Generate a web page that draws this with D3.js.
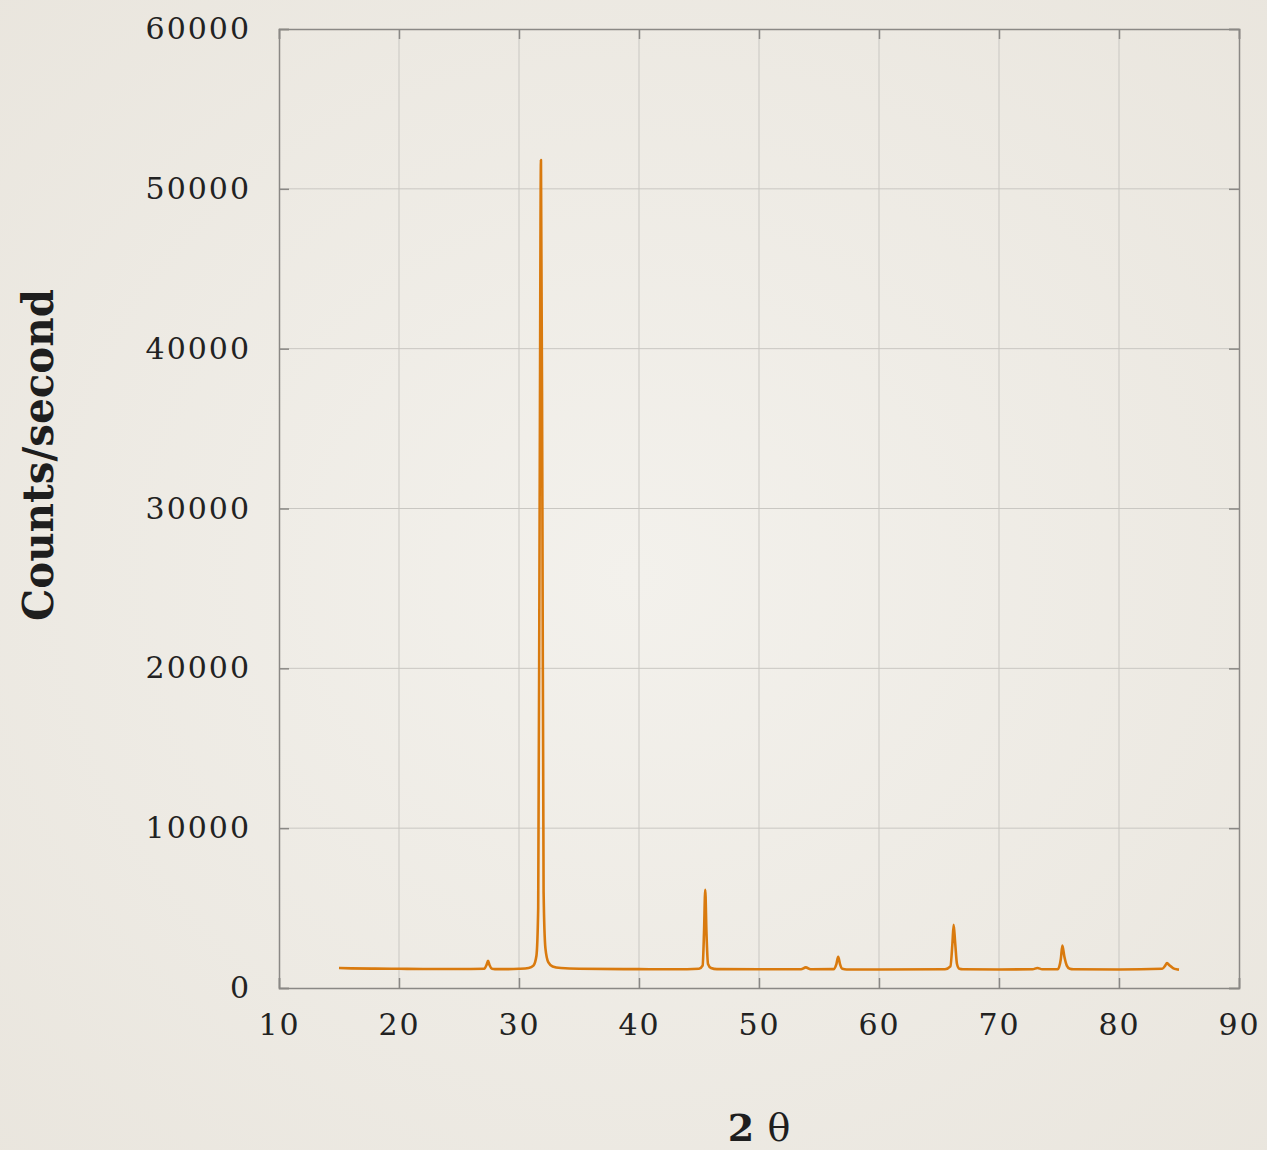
<!DOCTYPE html>
<html>
<head>
<meta charset="utf-8">
<script src="https://d3js.org/d3.v7.min.js"></script>
<style>
  html, body { margin: 0; padding: 0; }
  body { width: 1267px; height: 1150px; overflow: hidden; }
</style>
</head>
<body>
<svg id="chart" width="1267" height="1150"></svg>
<script>
// ── Daten ─────────────────────────────────────────────
const twoTheta = [
  15.0, 16, 18, 20, 22, 24, 26, 27.1, 27.3, 27.42, 27.55, 27.75, 28, 29, 30,
  30.8, 31.2, 31.45, 31.6, 31.72, 31.83, 31.95, 32.05, 32.2, 32.45, 32.8, 33.5,
  35, 40, 44, 45.0, 45.3, 45.42, 45.52, 45.62, 45.75, 46.0, 46.5, 50,
  53.5, 53.9, 54.3, 56.2, 56.45, 56.6, 56.75, 56.95, 57.3, 60,
  65.5, 65.95, 66.12, 66.22, 66.35, 66.5, 66.7, 67, 70,
  72.8, 73.2, 73.6, 74.9, 75.15, 75.28, 75.45, 75.65, 75.9, 76.2, 80,
  83.6, 83.85, 84.0, 84.2, 84.5, 84.8, 85.0
];
const counts = [
  1250, 1230, 1210, 1200, 1190, 1190, 1190, 1200, 1450, 1700, 1420, 1200, 1180, 1180, 1200,
  1250, 1400, 2000, 5000, 30000, 51800, 30000, 6000, 2500, 1600, 1350, 1250,
  1200, 1180, 1170, 1200, 1400, 3500, 6150, 3500, 1500, 1250, 1180, 1170,
  1170, 1290, 1170, 1180, 1500, 1950, 1500, 1200, 1160, 1160,
  1170, 1350, 2800, 3950, 2800, 1500, 1200, 1170, 1160,
  1170, 1250, 1170, 1180, 1800, 2650, 1950, 1400, 1200, 1170, 1160,
  1200, 1400, 1560, 1420, 1250, 1170, 1150
];
const xTicks = [10, 20, 30, 40, 50, 60, 70, 80, 90];
const yTicks = [0, 10000, 20000, 30000, 40000, 50000, 60000];

const LINE_COLOR = '#d97a0e';
const GRID = '#c9c7c2';
const FRAME = '#8a8885';
const SERIF = '"DejaVu Serif", "Liberation Serif", serif';

const svg = d3.select('#chart');
const W = 1267, H = 1150;
const m = { left: 279, right: 1239, top: 29, bottom: 988 };

// Hintergrund (Papier)
const defs = svg.append('defs');
const grad = defs.append('radialGradient').attr('id', 'paper')
  .attr('cx', '50%').attr('cy', '50%').attr('r', '75%');
grad.append('stop').attr('offset', '0%').attr('stop-color', '#f3f1ec');
grad.append('stop').attr('offset', '100%').attr('stop-color', '#e9e5dd');
svg.append('rect').attr('width', W).attr('height', H).attr('fill', 'url(#paper)');

const x = d3.scaleLinear().domain([10, 90]).range([m.left, m.right]);
const y = d3.scaleLinear().domain([0, 60000]).range([m.bottom, m.top]);

// Gitter
const g = svg.append('g');
g.append('g').selectAll('line').data(xTicks.slice(1, -1)).join('line')
  .attr('x1', d => x(d)).attr('x2', d => x(d))
  .attr('y1', m.top).attr('y2', m.bottom)
  .attr('stroke', GRID).attr('stroke-width', 1);
g.append('g').selectAll('line').data(yTicks.slice(1, -1)).join('line')
  .attr('y1', d => y(d)).attr('y2', d => y(d))
  .attr('x1', m.left).attr('x2', m.right)
  .attr('stroke', GRID).attr('stroke-width', 1);

// Achsen (Ticks nach innen, Rahmen)
const fmt = d3.format('d');
const axB = d3.axisBottom(x).tickValues(xTicks).tickSize(-10).tickPadding(26).tickFormat(fmt);
const axT = d3.axisTop(x).tickValues(xTicks).tickSize(-10).tickFormat('');
const axL = d3.axisLeft(y).tickValues(yTicks).tickSize(-10).tickPadding(28).tickFormat(fmt);
const axR = d3.axisRight(y).tickValues(yTicks).tickSize(-10).tickFormat('');

function styleAxis(sel) {
  sel.selectAll('.domain').attr('stroke', FRAME).attr('stroke-width', 1.5);
  sel.selectAll('.tick line').attr('stroke', FRAME).attr('stroke-width', 1.5);
  sel.selectAll('.tick text')
    .attr('fill', '#222')
    .style('font-family', SERIF)
    .style('font-size', '30px')
    .style('letter-spacing', '2px');
}
svg.append('g').attr('transform', `translate(0,${m.bottom})`).call(axB).call(styleAxis);
svg.append('g').attr('transform', `translate(0,${m.top})`).call(axT).call(styleAxis);
svg.append('g').attr('transform', `translate(${m.left},0)`).call(axL).call(styleAxis);
svg.append('g').attr('transform', `translate(${m.right},0)`).call(axR).call(styleAxis);

// Kurve
const data = twoTheta.map((t, i) => ({ t, c: counts[i] }));
svg.append('path')
  .datum(data)
  .attr('fill', 'none')
  .attr('stroke', LINE_COLOR)
  .attr('stroke-width', 2.6)
  .attr('stroke-linejoin', 'round')
  .attr('d', d3.line().x(d => x(d.t)).y(d => y(d.c)).curve(d3.curveMonotoneX));

// Achsentitel
svg.append('text')
  .attr('transform', 'translate(53,455) rotate(-90)')
  .attr('text-anchor', 'middle')
  .attr('textLength', 332)
  .attr('lengthAdjust', 'spacingAndGlyphs')
  .style('font-family', SERIF)
  .style('font-weight', 'bold')
  .style('font-size', '42px')
  .attr('fill', '#1e1e1e')
  .text('Counts/second');

const xt = svg.append('text')
  .attr('x', 759).attr('y', 1141)
  .attr('text-anchor', 'middle')
  .style('font-family', SERIF)
  .style('font-size', '38px')
  .attr('fill', '#1e1e1e');
xt.append('tspan').style('font-weight', 'bold').text('2 ');
xt.append('tspan').text('θ');
</script>
</body>
</html>
